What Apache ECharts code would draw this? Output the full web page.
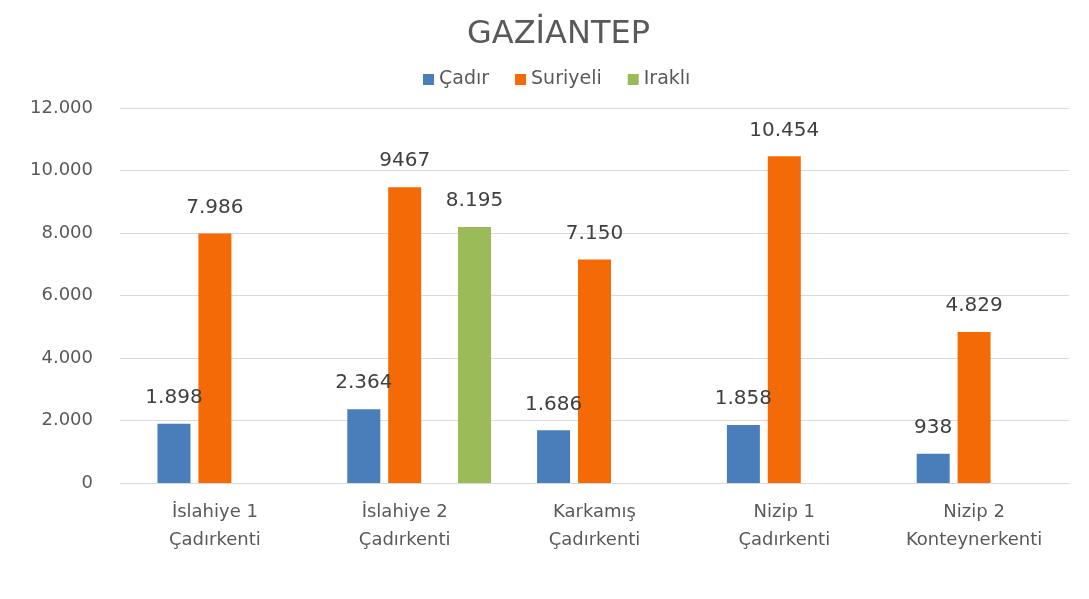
<!DOCTYPE html>
<html lang="tr">
<head>
<meta charset="UTF-8">
<title>GAZİANTEP</title>
<style>
  * { margin: 0; padding: 0; }
  html, body { background: #fff; }
  #chart { width: 1089px; height: 599px; }
</style>
</head>
<body>
<div id="chart"></div>
<script src="https://cdn.jsdelivr.net/npm/echarts@6/dist/echarts.min.js"></script>
<script>
  // veriler
  const categories = ['İslahiye 1\nÇadırkenti', 'İslahiye 2\nÇadırkenti', 'Karkamış\nÇadırkenti', 'Nizip 1\nÇadırkenti', 'Nizip 2\nKonteynerkenti'];
  const cadir = [1898, 2364, 1686, 1858, 938];
  const suriyeli = [7986, 9467, 7150, 10454, 4829];
  const irakli = [null, 8195, null, null, null];
  const suriyeliLabels = ['7.986', '9467', '7.150', '10.454', '4.829'];
  const yTicks = [0, 2000, 4000, 6000, 8000, 10000, 12000];
  const empty = [null, null, null, null, null];

  function fmt(v) {
    return String(v).replace(/\B(?=(\d{3})+(?!\d))/g, '.');
  }

  const font = '"DejaVu Sans", Verdana, sans-serif';
  const labelStyle = {
    show: true,
    position: 'top',
    distance: 16,
    color: '#404040',
    fontSize: 20,
    fontFamily: font
  };

  const chart = echarts.init(document.getElementById('chart'));
  chart.setOption({
    backgroundColor: '#fff',
    animation: false,
    title: {
      text: 'GAZİANTEP',
      left: 462,
      top: 14,
      textStyle: { color: '#595959', fontSize: 32, fontWeight: 'normal', fontFamily: font }
    },
    legend: {
      top: 65,
      left: 418,
      itemWidth: 11,
      itemHeight: 11,
      itemGap: 26,
      icon: 'rect',
      textStyle: { color: '#595959', fontSize: 19, fontFamily: font },
      data: ['Çadır', 'Suriyeli', 'Iraklı']
    },
    grid: { left: 120, right: 20, top: 108, bottom: 116 },
    xAxis: [{
      type: 'category',
      data: categories,
      axisTick: { show: false },
      axisLine: { lineStyle: { color: '#d9d9d9' } },
      axisLabel: {
        color: '#595959',
        fontSize: 18,
        lineHeight: 28,
        margin: 15,
        fontFamily: font,
        interval: 0
      }
    }, {
      // Iraklı sütunu için ayrı yerleşim
      type: 'category',
      data: categories,
      show: false
    }],
    yAxis: {
      type: 'value',
      min: yTicks[0],
      max: yTicks[yTicks.length - 1],
      interval: 2000,
      axisLine: { show: false },
      axisTick: { show: false },
      splitLine: { lineStyle: { color: '#d9d9d9' } },
      axisLabel: {
        color: '#595959',
        fontSize: 18,
        margin: 27,
        fontFamily: font,
        formatter: v => fmt(v)
      }
    },
    series: [
      {
        name: 'Çadır',
        type: 'bar',
        barWidth: 33,
        barGap: '24%',
        itemStyle: { color: '#4a7ebb' },
        label: Object.assign({}, labelStyle, { formatter: p => fmt(p.value) }),
        data: cadir
      },
      {
        name: 'Suriyeli',
        type: 'bar',
        barWidth: 33,
        itemStyle: { color: '#f46a06' },
        label: Object.assign({}, labelStyle, { formatter: p => suriyeliLabels[p.dataIndex] }),
        data: suriyeli
      },
      {
        name: 'bos',
        type: 'bar',
        barWidth: 33,
        data: empty
      },
      {
        name: 'bos2',
        type: 'bar',
        xAxisIndex: 1,
        barWidth: 33,
        barGap: '323%',
        data: empty
      },
      {
        name: 'Iraklı',
        type: 'bar',
        xAxisIndex: 1,
        barWidth: 33,
        itemStyle: { color: '#9bbb59' },
        label: Object.assign({}, labelStyle, { formatter: p => fmt(p.value) }),
        data: irakli
      }
    ]
  });
</script>
</body>
</html>
